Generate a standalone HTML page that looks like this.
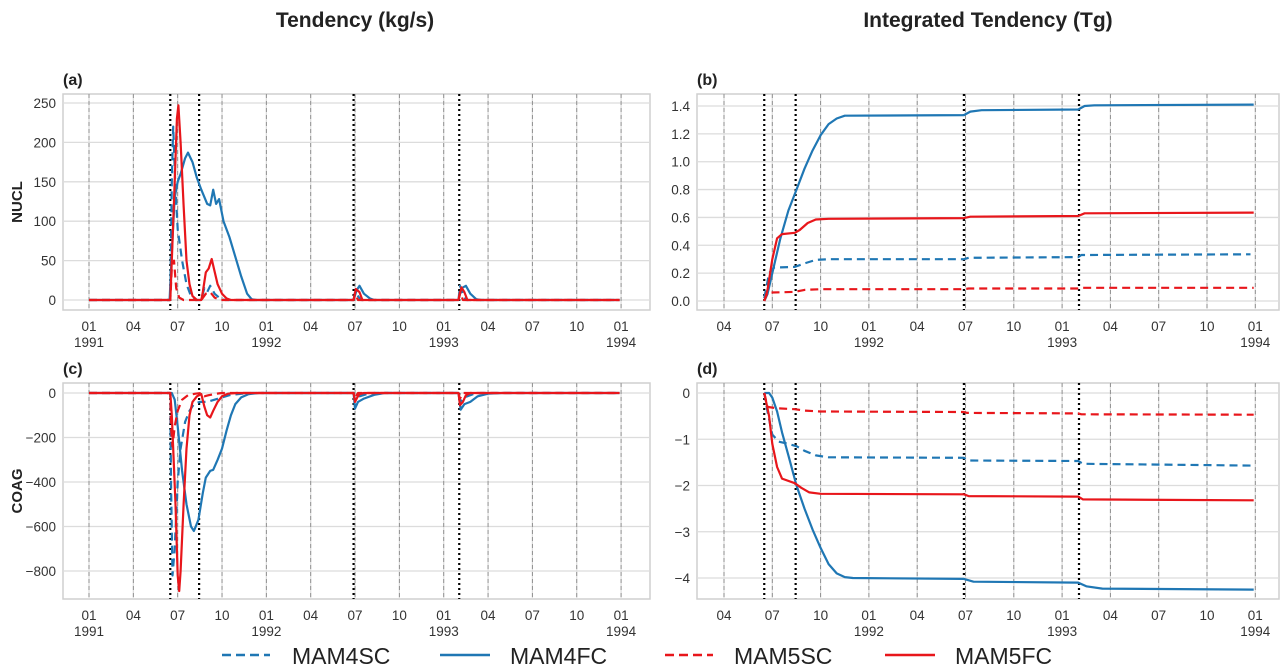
<!DOCTYPE html>
<html><head><meta charset="utf-8">
<style>
html,body{margin:0;padding:0;background:#fff;}
svg{display:block;font-family:"Liberation Sans",sans-serif;}
</style></head>
<body>
<svg id="fig" width="1283" height="666" viewBox="0 0 1283 666">
<text x="355" y="27" text-anchor="middle" font-size="21" font-weight="bold" fill="#222">Tendency (kg/s)</text>
<text x="988" y="27" text-anchor="middle" font-size="21" font-weight="bold" fill="#222">Integrated Tendency (Tg)</text>
<g id="legend">
<g><line x1="222" y1="655" x2="270" y2="655" stroke="#1f77b4" stroke-width="2.5" stroke-dasharray="9,5"/><text x="292" y="664" font-size="23" fill="#222">MAM4SC</text></g>
<g><line x1="440" y1="655" x2="490" y2="655" stroke="#1f77b4" stroke-width="2.5"/><text x="510" y="664" font-size="23" fill="#222">MAM4FC</text></g>
<g><line x1="665" y1="655" x2="713" y2="655" stroke="#e8161b" stroke-width="2.5" stroke-dasharray="9,5"/><text x="734" y="664" font-size="23" fill="#222">MAM5SC</text></g>
<g><line x1="885" y1="655" x2="935" y2="655" stroke="#e8161b" stroke-width="2.5"/><text x="955" y="664" font-size="23" fill="#222">MAM5FC</text></g>
</g>
</svg>
<script>
// time in months since 1991-01-01
const eruptionTimes = [5.5, 7.45, 17.9, 25.05];
const monthLabels = ["01","04","07","10"];
const yearLabels = ["1991","1992","1993","1994"];

// (a) NUCL tendency
const aTicks = [0,50,100,150,200,250];
const a4fcT = [0,5.45,5.6,5.8,6.0,6.2,6.5,6.7,7.0,7.3,7.6,8.0,8.2,8.4,8.6,8.8,9.1,9.5,9.9,10.3,10.7,11.0,11.3,17.9,18.1,18.3,18.6,19.0,19.3,25.0,25.2,25.5,25.8,26.2,26.5,35.9];
const a4fcV = [0,0,60,130,150,160,180,187,175,155,140,122,120,140,122,128,100,80,55,30,8,1,0,0,12,18,8,2,0,0,15,18,8,1,0,0];
const a5fcT = [0,5.5,5.6,5.8,5.95,6.05,6.2,6.4,6.6,6.8,7.0,7.3,7.6,7.7,7.9,8.1,8.3,8.45,8.7,9.0,9.3,9.6,17.9,18.05,18.3,18.5,25.0,25.2,25.4,25.6,35.9];
const a5fcV = [0,0,50,150,230,247,200,120,50,20,5,0,0,10,35,40,52,40,20,8,2,0,0,14,10,0,0,16,10,0,0];
const a4scT = [0,5.5,5.6,5.7,5.85,6.0,6.3,6.6,6.9,7.2,7.6,7.8,8.0,8.2,8.5,8.8,9.2,17.9,18.0,18.2,18.4,25.0,25.1,25.3,25.5,35.9];
const a4scV = [0,0,150,220,140,90,50,20,5,0,0,15,10,18,8,3,0,0,10,5,0,0,18,8,0,0];
const a5scT = [0,5.5,5.6,5.75,5.9,6.1,6.4,7.6,7.9,8.2,8.5,8.9,17.9,18.0,18.2,25.0,25.1,25.3,35.9];
const a5scV = [0,0,40,50,15,3,0,0,8,10,3,0,0,8,0,0,10,0,0];

// (b) NUCL integrated
const bTicks = [0,0.2,0.4,0.6,0.8,1.0,1.2,1.4];
const b4fcT = [5.5,5.7,6.0,6.5,7.0,7.5,8.0,8.5,9.0,9.5,10.0,10.5,17.9,18.3,19.0,25.0,25.4,26.0,35.9];
const b4fcV = [0,0.05,0.2,0.45,0.65,0.8,0.95,1.08,1.19,1.27,1.31,1.33,1.335,1.36,1.37,1.375,1.40,1.405,1.41];
const b5fcT = [5.5,5.7,6.0,6.3,6.6,7.4,7.7,8.2,8.7,9.5,17.9,18.3,25.0,25.4,35.9];
const b5fcV = [0,0.08,0.3,0.45,0.48,0.49,0.51,0.56,0.585,0.59,0.595,0.605,0.61,0.63,0.635];
const b4scT = [5.5,5.8,6.1,7.4,8.0,8.7,9.5,17.9,18.2,25.0,25.2,35.7];
const b4scV = [0.02,0.2,0.24,0.245,0.27,0.295,0.3,0.3,0.31,0.315,0.33,0.335];
const b5scT = [5.5,5.7,7.4,8.0,9.0,17.9,18.2,25.0,25.2,35.9];
const b5scV = [0,0.06,0.065,0.08,0.085,0.085,0.09,0.09,0.095,0.095];

// (c) COAG tendency
const cTicks = [0,-200,-400,-600,-800];
const c4fcT = [0,5.6,5.8,6.0,6.3,6.6,6.9,7.1,7.4,7.7,7.9,8.2,8.4,8.7,9.0,9.3,9.6,9.9,10.3,10.8,11.5,17.9,18.0,18.2,18.6,19.3,20,25.0,25.15,25.4,25.8,26.3,27,28,35.9];
const c4fcV = [0,0,-30,-150,-350,-500,-600,-620,-570,-450,-380,-350,-345,-300,-250,-170,-100,-50,-20,-5,0,0,-70,-40,-25,-8,0,0,-75,-50,-40,-15,-3,0,0];
const c5fcT = [0,5.5,5.6,5.7,5.85,6.0,6.1,6.2,6.4,6.6,6.8,7.0,7.3,7.6,7.8,8.0,8.2,8.4,8.7,9.0,9.4,10,17.9,18.0,18.15,18.3,18.6,25.0,25.1,25.3,25.5,25.8,35.9];
const c5fcV = [0,0,-100,-250,-500,-820,-890,-800,-500,-250,-100,-40,-15,-5,-60,-100,-110,-80,-40,-15,-3,0,0,-40,-20,-5,0,0,-55,-40,-10,0,0];
const c4scT = [0,5.5,5.55,5.65,5.8,6.0,6.2,6.5,6.8,7.1,7.5,8.0,8.5,9.0,9.5,10.5,11,17.9,18.0,18.3,18.8,19.3,25.0,25.1,25.4,26,26.5,35.9];
const c4scV = [0,0,-400,-820,-700,-400,-250,-130,-80,-50,-40,-40,-30,-20,-10,-2,0,0,-30,-15,-5,0,0,-40,-20,-5,0,0];
const c5scT = [0,5.5,5.55,5.65,5.8,6.0,6.3,6.7,7.2,7.6,7.8,8.1,8.6,9,17.9,18.0,18.2,25.0,25.1,25.3,35.9];
const c5scV = [0,0,-150,-240,-150,-80,-30,-10,-3,0,-15,-10,-3,0,0,-20,0,0,-25,0,0];

// (d) COAG integrated
const dTicks = [0,-1,-2,-3,-4];
const d4fcT = [5.5,5.8,6.0,6.3,6.6,7.0,7.5,8.0,8.5,9.0,9.5,10,10.5,11,17.9,18.5,25.0,25.5,26.5,35.9];
const d4fcV = [0,0,-0.1,-0.4,-0.85,-1.35,-2.0,-2.5,-2.95,-3.35,-3.7,-3.9,-3.98,-4.0,-4.02,-4.08,-4.1,-4.18,-4.23,-4.25];
const d5fcT = [5.5,5.8,6.0,6.3,6.6,7.4,7.8,8.3,9.0,17.9,18.2,25.0,25.3,35.9];
const d5fcV = [0,-0.5,-1.1,-1.6,-1.85,-1.95,-2.05,-2.15,-2.18,-2.19,-2.23,-2.24,-2.3,-2.32];
const d4scT = [5.5,5.7,6.0,6.4,7.0,7.5,8.0,8.7,9.5,17.9,18.2,25.0,25.3,35.9];
const d4scV = [0,-0.4,-0.9,-1.05,-1.1,-1.15,-1.25,-1.35,-1.39,-1.4,-1.46,-1.47,-1.53,-1.57];
const d5scT = [5.5,5.7,6.3,7.4,8.0,9,17.9,18.1,25,25.2,35.9];
const d5scV = [0,-0.3,-0.33,-0.35,-0.38,-0.4,-0.41,-0.43,-0.44,-0.46,-0.47];

const BLUE="#1f77b4", RED="#e8161b";
const NS="http://www.w3.org/2000/svg";
const svg=document.getElementById('fig');
function mk(tag,attrs,parent){const e=document.createElementNS(NS,tag);for(const k in attrs)e.setAttribute(k,attrs[k]);(parent||svg).appendChild(e);return e;}

const panels=[
 {id:"a",left:63,right:650,top:94,bottom:310,xT0:0,xPix0:89,xPerM:14.78,tickStart:0,yPix0:300,yPerU:-197/250,ticks:aTicks,fmt:v=>String(v),ylabel:"NUCL",lblY:202,
  series:[[a4scT,a4scV,BLUE,true,"mam4sc"],[a4fcT,a4fcV,BLUE,false,"mam4fc"],[a5scT,a5scV,RED,true,"mam5sc"],[a5fcT,a5fcV,RED,false,"mam5fc"]]},
 {id:"b",left:697,right:1279,top:94,bottom:310,xT0:3,xPix0:724,xPerM:16.1,tickStart:3,yPix0:301,yPerU:-195/1.4,ticks:bTicks,fmt:v=>v.toFixed(1),
  series:[[b4scT,b4scV,BLUE,true,"mam4sc"],[b4fcT,b4fcV,BLUE,false,"mam4fc"],[b5scT,b5scV,RED,true,"mam5sc"],[b5fcT,b5fcV,RED,false,"mam5fc"]]},
 {id:"c",left:63,right:650,top:383,bottom:599,xT0:0,xPix0:89,xPerM:14.78,tickStart:0,yPix0:393,yPerU:-178/800,ticks:cTicks,fmt:v=>v<0?"\u2212"+(-v):String(v),ylabel:"COAG",lblY:491,
  series:[[c4scT,c4scV,BLUE,true,"mam4sc"],[c4fcT,c4fcV,BLUE,false,"mam4fc"],[c5scT,c5scV,RED,true,"mam5sc"],[c5fcT,c5fcV,RED,false,"mam5fc"]]},
 {id:"d",left:697,right:1279,top:383,bottom:599,xT0:3,xPix0:724,xPerM:16.1,tickStart:3,yPix0:393,yPerU:-46.25,ticks:dTicks,fmt:v=>v<0?"\u2212"+(-v):String(v),
  series:[[d4scT,d4scV,BLUE,true,"mam4sc"],[d4fcT,d4fcV,BLUE,false,"mam4fc"],[d5scT,d5scV,RED,true,"mam5sc"],[d5fcT,d5fcV,RED,false,"mam5fc"]]}
];

panels.forEach(p=>{
 const g=mk('g',{});
 
 
 const xs=t=>p.xPix0+(t-p.xT0)*p.xPerM;
 const ys=v=>p.yPix0+v*p.yPerU;
 const box=mk('rect',{x:p.left,y:p.top,width:p.right-p.left,height:p.bottom-p.top,fill:"#fff",stroke:"#cfcfcf","stroke-width":1.5},g);
 
 
 p.ticks.forEach(v=>{
  const y=ys(v);
  mk('line',{x1:p.left,x2:p.right,y1:y,y2:y,stroke:"#dcdcdc","stroke-width":1.3},g);
  const t=mk('text',{x:p.left-7,y:y+5,"text-anchor":"end","font-size":13.5,fill:"#333"},g);
  t.textContent=p.fmt(v);
  
  
 });
 for(let m=p.tickStart;m<=36;m+=3){
  const x=xs(m);
  mk('line',{x1:x,x2:x,y1:p.top,y2:p.bottom,stroke:"#dcdcdc","stroke-width":1.2},g);
  mk('line',{x1:x,x2:x,y1:p.top,y2:p.bottom,stroke:"#8a8a8a","stroke-width":0.9,"stroke-dasharray":"4,3"},g);
  const t=mk('text',{x:x,y:p.bottom+21,"text-anchor":"middle","font-size":13.5,fill:"#333"},g);
  t.textContent=monthLabels[(m/3)%4];
  
  
  if(m%12===0){
   const t2=mk('text',{x:x,y:p.bottom+37,"text-anchor":"middle","font-size":13.5,fill:"#333"},g);
   t2.textContent=yearLabels[m/12];
   
   
  }
 }
 eruptionTimes.forEach(t=>{
  const l=mk('line',{x1:xs(t),x2:xs(t),y1:p.top,y2:p.bottom,stroke:"#000","stroke-width":2.2,"stroke-dasharray":"2,3"},g);
  
  
 });
 p.series.forEach(s=>{
  const [T,V,col,dash,name]=s;
  const d=T.map((t,i)=>(i?"L":"M")+xs(t).toFixed(1)+","+ys(V[i]).toFixed(1)).join(" ");
  const path=mk('path',{d:d,fill:"none",stroke:col,"stroke-width":2.2,"stroke-linejoin":"round"},g);
  if(dash)path.setAttribute('stroke-dasharray','8,5');
  
  
 });
 const pl=mk('text',{x:p.left,y:p.top-9,"font-size":16,"font-weight":"bold",fill:"#222"},g);
 pl.textContent="("+p.id+")";
 
 
 if(p.ylabel){
  const yl=mk('text',{x:0,y:0,"font-size":15,"font-weight":"bold",fill:"#222","text-anchor":"middle",transform:"translate(22,"+p.lblY+") rotate(-90)"},g);
  yl.textContent=p.ylabel;
  
  
 }
});
</script>
</body></html>
